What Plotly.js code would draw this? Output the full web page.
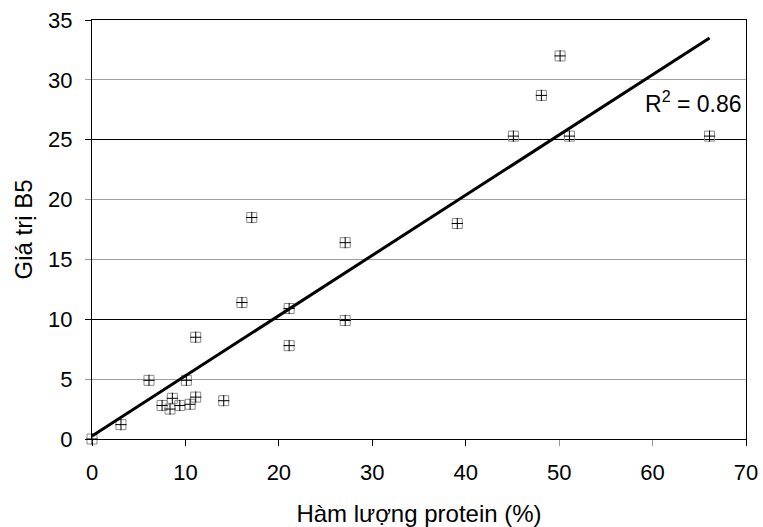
<!DOCTYPE html>
<html>
<head>
<meta charset="utf-8">
<script src="https://cdn.plot.ly/plotly-3.0.1.min.js"></script>
<style>html,body{margin:0;padding:0;background:#fff;}#chart{width:763px;height:527px;}</style>
</head>
<body>
<div id="chart"></div>
<script>
// Data
var proteinPct = [0, 3.1, 6.1, 7.5, 8.35, 8.6, 9.4, 10.1, 10.5, 11.1, 11.1, 14.1, 16.05, 17.1, 21.1, 21.1, 27.1, 27.1, 39.1, 45.1, 48.1, 50.1, 51.1, 66.1];
var b5Value    = [0, 1.2, 4.9, 2.8, 2.5, 3.4, 2.8, 4.9, 2.9, 8.5, 3.5, 3.2, 11.4, 18.5, 10.9, 7.8, 16.4, 9.9, 18.0, 25.3, 28.7, 32.0, 25.3, 25.3];
var trendX = [0, 66.1];
var trendY = [0.25, 33.5];
var r2Label = "R<sup>2</sup> = 0.86";
var xTitle = "Hàm lượng protein (%)";
var yTitle = "Giá trị B5";

var FONT = "Liberation Sans, Arial, sans-serif";

var traces = [
  {x: proteinPct, y: b5Value, type: "scatter", mode: "markers", cliponaxis: false,
   marker: {symbol: "square-open", size: 10, color: "#8a8a8a", line: {width: 1}},
   hoverinfo: "x+y", showlegend: false},
  {x: proteinPct, y: b5Value, type: "scatter", mode: "markers", cliponaxis: false,
   marker: {symbol: "cross-thin-open", size: 8, color: "#000", line: {width: 1, color: "#000"}},
   hoverinfo: "skip", showlegend: false},
  {x: trendX, y: trendY, type: "scatter", mode: "lines", xaxis: "x2", yaxis: "y2",
   line: {color: "#000", width: 3}, hoverinfo: "skip", showlegend: false}
];

var layout = {
  width: 763, height: 527,
  margin: {l: 92, r: 17, t: 20, b: 88},
  paper_bgcolor: "#fff", plot_bgcolor: "#fff",
  font: {family: FONT, size: 22, color: "#000"},
  xaxis: {
    range: [0, 70], dtick: 10, tick0: 0,
    ticks: "outside", ticklen: 6, tickcolor: "#999", tickwidth: 1,
    showline: true, mirror: true, linecolor: "#000", linewidth: 1,
    showgrid: false, zeroline: false, ticklabelstandoff: 8,
    tickfont: {family: FONT, size: 22, color: "#000"},
    title: {text: xTitle, font: {family: FONT, size: 24, color: "#000"}, standoff: 20}
  },
  yaxis: {
    range: [0, 35], dtick: 5, tick0: 0,
    ticks: "outside", ticklen: 6, tickcolor: "#999", tickwidth: 1,
    showline: true, mirror: true, linecolor: "#000", linewidth: 1,
    showgrid: true, gridcolor: "#a0a0a0", gridwidth: 1, zeroline: false, ticklabelstandoff: 8,
    tickfont: {family: FONT, size: 22, color: "#000"},
    title: {text: yTitle, font: {family: FONT, size: 24, color: "#000"}, standoff: 8}
  },
  xaxis2: {
    overlaying: "x", anchor: "y2", side: "bottom", range: [0, 70],
    tickvals: [0, 10, 20, 30, 40, 70], ticks: "outside", ticklen: 6, tickcolor: "#000",
    showticklabels: false, showgrid: false, zeroline: false, showline: false
  },
  yaxis2: {
    overlaying: "y", anchor: "x2", side: "left", range: [0, 35],
    tickvals: [0, 10, 25, 35], ticks: "outside", ticklen: 6, tickcolor: "#000",
    showticklabels: false, showgrid: true, gridcolor: "#000", gridwidth: 1,
    zeroline: false, showline: false
  },
  annotations: [{
    xref: "paper", yref: "paper", x: 0.997, y: 0.805, xanchor: "right", yanchor: "middle",
    text: r2Label, showarrow: false, font: {family: FONT, size: 23, color: "#000"}
  }]
};

Plotly.newPlot("chart", traces, layout, {displayModeBar: false, staticPlot: true});
</script>
</body>
</html>
